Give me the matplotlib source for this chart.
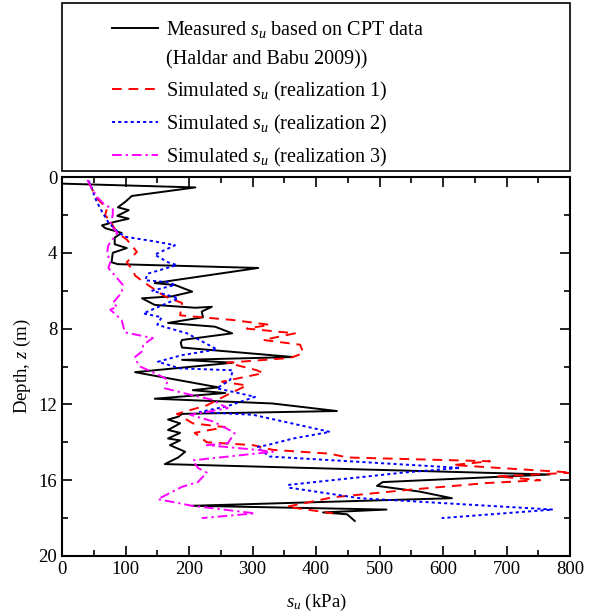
import matplotlib
matplotlib.use("Agg")
import matplotlib.pyplot as plt
from matplotlib.lines import Line2D
from matplotlib.patches import Rectangle
from matplotlib.ticker import MultipleLocator

plt.rcParams["font.family"] = ["Liberation Serif", "DejaVu Serif"]
plt.rcParams["mathtext.fontset"] = "custom"
plt.rcParams["mathtext.rm"] = "Liberation Serif"
plt.rcParams["mathtext.it"] = "Liberation Serif:italic"

# measured su profile (Haldar and Babu 2009)
meas_su = [0, 210, 110, 100, 88, 105, 87, 105, 85, 63, 68, 94, 83, 83, 102, 80,
           78, 88, 309, 146, 178, 205, 173, 126, 146, 210, 236, 220, 222, 167,
           241, 268, 189, 187, 189, 364, 189, 269, 115, 246, 206, 257, 146, 331,
           433, 189, 183, 167, 186, 167, 186, 167, 186, 170, 194, 183, 162, 768,
           505, 496, 563, 614, 205, 511, 411, 449, 461]
meas_z = [0.35, 0.55, 1.0, 1.3, 1.6, 1.75, 2.05, 2.2, 2.35, 2.55, 2.7, 2.95, 3.2,
          3.55, 3.75, 4.0, 4.5, 4.6, 4.8, 5.6, 5.7, 6.05, 6.3, 6.4, 6.75, 6.9,
          6.85, 7.1, 7.4, 7.7, 7.9, 8.25, 8.6, 8.75, 9.0, 9.5, 9.65, 9.8, 10.3,
          11.1, 11.25, 11.4, 11.7, 11.95, 12.35, 12.5, 12.65, 12.8, 13.0, 13.35,
          13.5, 13.8, 13.9, 14.15, 14.5, 14.8, 15.15, 15.7, 16.1, 16.3, 16.6,
          16.95, 17.35, 17.55, 17.7, 17.8, 18.15]

# simulated realizations
r1_su = [42, 50, 57, 71, 68, 79, 87, 102, 118, 102, 112, 115, 131, 162, 189, 186,
         270, 327, 291, 367, 317, 375, 380, 359, 260, 307, 317, 252, 291, 260,
         228, 181, 206, 257, 209, 228, 301, 332, 422, 449, 674, 616, 805, 685,
         753, 669, 548, 427, 354, 427]
r1_z = [0.3, 0.8, 1.2, 1.65, 2.0, 2.5, 2.95, 3.3, 3.95, 4.5, 4.95, 5.2, 5.6, 6.3,
        6.65, 7.3, 7.55, 7.8, 8.0, 8.25, 8.6, 8.85, 9.3, 9.55, 9.8, 10.2, 10.35,
        10.8, 11.0, 11.5, 12.05, 12.5, 13.0, 13.2, 13.5, 14.0, 14.15, 14.4, 14.6,
        14.8, 15.0, 15.2, 15.6, 15.8, 16.0, 16.15, 16.5, 16.9, 17.4, 17.75]

r2_su = [42, 47, 52, 60, 73, 88, 99, 146, 178, 146, 167, 181, 135, 131, 167, 178,
         142, 183, 128, 157, 150, 197, 244, 189, 151, 186, 269, 265, 244, 304,
         260, 217, 301, 422, 364, 323, 307, 327, 627, 537, 356, 359, 469, 773,
         598]
r2_z = [0.2, 0.6, 1.1, 1.65, 2.4, 2.9, 3.15, 3.4, 3.6, 4.1, 4.5, 4.65, 5.1, 5.45,
        5.55, 5.7, 6.0, 6.4, 7.2, 7.4, 7.8, 8.25, 9.1, 9.4, 9.75, 10.1, 10.2,
        10.7, 11.15, 11.6, 12.1, 12.4, 12.55, 13.45, 13.8, 14.15, 14.25, 14.75,
        15.35, 15.6, 16.25, 16.4, 16.95, 17.55, 18.0]

r3_su = [40, 47, 55, 68, 80, 80, 76, 87, 73, 71, 76, 73, 96, 94, 80, 87, 76, 94,
         99, 143, 128, 126, 115, 118, 123, 146, 167, 162, 191, 236, 261, 202,
         238, 272, 261, 228, 307, 332, 206, 214, 228, 214, 189, 151, 205, 304,
         220]
r3_z = [0.15, 0.6, 1.05, 1.5, 1.65, 2.0, 2.5, 2.95, 3.6, 4.0, 4.5, 4.8, 5.7, 6.1,
        6.65, 6.85, 7.0, 7.55, 8.2, 8.5, 8.85, 9.2, 9.5, 9.75, 10.0, 10.35, 10.7,
        11.15, 11.4, 11.75, 12.2, 12.55, 12.9, 13.5, 14.05, 14.15, 14.4, 14.5,
        14.95, 15.35, 15.6, 16.1, 16.35, 17.0, 17.35, 17.75, 18.0]

W, H = 589, 616
fig = plt.figure(figsize=(W / 100, H / 100), dpi=100)
ax = fig.add_axes([62 / W, 1 - 556 / H, 508 / W, 379 / H])

l0, = ax.plot(meas_su, meas_z, "-", color="black", lw=1.4)
l1, = ax.plot(r1_su, r1_z, color="red", lw=1.4, dashes=(5, 3.5))
l2, = ax.plot(r2_su, r2_z, color="blue", lw=1.4, dashes=(1.6, 1.6))
l3, = ax.plot(r3_su, r3_z, color="magenta", lw=1.4, dashes=(5, 2, 1.2, 2))

ax.set_xlim(0, 800)
ax.set_ylim(20, 0)
ax.xaxis.set_major_locator(MultipleLocator(100))
ax.xaxis.set_minor_locator(MultipleLocator(50))
ax.yaxis.set_major_locator(MultipleLocator(4))
ax.yaxis.set_minor_locator(MultipleLocator(2))
ax.tick_params(which="both", direction="in", top=True, right=True,
               labelsize=13.5, width=1.2)
ax.tick_params(which="major", length=7)
ax.tick_params(which="minor", length=4)
for s in ax.spines.values():
    s.set_linewidth(1.5)

ax.set_xlabel("$s_u$ (kPa)", fontsize=13.5, labelpad=10)
ax.set_ylabel("Depth, $z$ (m)", fontsize=13.5, labelpad=4)

# legend box spanning the plot width above the axes
fig.patches.append(Rectangle((62 / W, 1 - 171 / H), 508 / W, 168 / H,
                             transform=fig.transFigure, fill=False,
                             edgecolor="black", lw=1.2))
blank = Line2D([], [], color="none")
handles = [l0, blank, l1, l2, l3]
labels = ["Measured $s_u$ based on CPT data",
          "(Haldar and Babu 2009))",
          "Simulated $s_u$ (realization 1)",
          "Simulated $s_u$ (realization 2)",
          "Simulated $s_u$ (realization 3)"]
fig.legend(handles, labels, loc="upper left",
           bbox_to_anchor=(98 / W, 1 - 5 / H), frameon=False, fontsize=14.5,
           handlelength=2.3, handletextpad=0.4, labelspacing=0.5,
           borderpad=0.2)

fig.savefig("out.png", dpi=100)
